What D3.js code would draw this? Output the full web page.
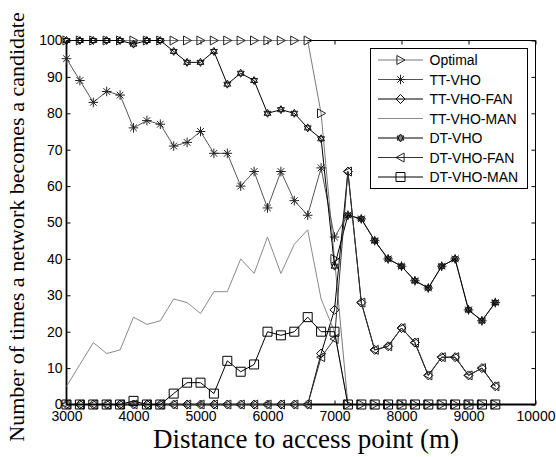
<!DOCTYPE html>
<html>
<head>
<meta charset="utf-8">
<script src="https://cdn.jsdelivr.net/npm/d3@7"></script>
<style>
  body { margin: 0; background: #fff; }
  svg { display: block; }
</style>
</head>
<body>
<svg id="chart" width="556" height="457"></svg>
<script>
// distances (m), one point every 200 m
const distance = [3000, 3200, 3400, 3600, 3800, 4000, 4200, 4400, 4600, 4800, 5000,
  5200, 5400, 5600, 5800, 6000, 6200, 6400, 6600, 6800, 7000, 7200, 7400, 7600,
  7800, 8000, 8200, 8400, 8600, 8800, 9000, 9200, 9400];

const optimal = [100, 100, 100, 100, 100, 100, 100, 100, 100, 100, 100, 100, 100, 100,
  100, 100, 100, 100, 100, 80, 40, 0, 0, 0, 0, 0, 0, 0, 0, 0, 0, 0, 0];
const ttVho = [95, 89, 83, 86, 85, 76, 78, 77, 71, 72, 75, 69, 69, 60, 64, 54, 64, 56,
  52, 65, 46, 52, 51, 45, 40, 38, 34, 32, 38, 40, 26, 23, 28];
const ttVhoFan = [0, 0, 0, 0, 0, 0, 0, 0, 0, 0, 0, 0, 0, 0, 0, 0, 0, 0, 0, 14, 26, 64,
  28, 15, 16, 21, 17, 8, 13, 13, 8, 10, 5];
const ttVhoMan = [5, 11, 17, 14, 15, 24, 22, 23, 29, 28, 25, 31, 31, 40, 36, 46, 36, 44,
  48, 29, 20, 0, 0, 0, 0, 0, 0, 0, 0, 0, 0, 0, 0];
const dtVho = [100, 100, 100, 100, 100, 99, 100, 100, 97, 94, 94, 97, 88, 91, 89, 80, 81,
  80, 76, 73, 38, 52, 51, 45, 40, 38, 34, 32, 38, 40, 26, 23, 28];
const dtVhoFan = [0, 0, 0, 0, 0, 0, 0, 0, 0, 0, 0, 0, 0, 0, 0, 0, 0, 0, 0, 13, 18, 64,
  28, 15, 16, 21, 17, 8, 13, 13, 8, 10, 5];
const dtVhoMan = [0, 0, 0, 0, 0, 1, 0, 0, 3, 6, 6, 3, 12, 9, 11, 20, 19, 20, 24, 20, 20,
  0, 0, 0, 0, 0, 0, 0, 0, 0, 0, 0, 0];

const seriesNames = ['Optimal', 'TT-VHO', 'TT-VHO-FAN', 'TT-VHO-MAN', 'DT-VHO', 'DT-VHO-FAN', 'DT-VHO-MAN'];
const seriesValues = [optimal, ttVho, ttVhoFan, ttVhoMan, dtVho, dtVhoFan, dtVhoMan];

const xTicks = [3000, 4000, 5000, 6000, 7000, 8000, 9000, 10000];
const yTicks = [0, 10, 20, 30, 40, 50, 60, 70, 80, 90, 100];

// marker shapes (drawn around 0,0)
function triRight(r) { return `M${-r * 0.8},${-r}L${r},0L${-r * 0.8},${r}Z`; }
function triLeft(r) { return `M${r * 0.8},${-r}L${-r},0L${r * 0.8},${r}Z`; }
function diamond(r) { return `M0,${-r}L${r},0L0,${r}L${-r},0Z`; }
function square(r) { return `M${-r},${-r}H${r}V${r}H${-r}Z`; }
function asterisk(r) {
  let a = r * 0.7;
  return `M${-r},0H${r}M0,${-r}V${r}M${-a},${-a}L${a},${a}M${-a},${a}L${a},${-a}`;
}
function hexagram(r) {
  let p = '';
  [-90, 90].forEach(function(start) {
    let pts = [0, 120, 240].map(function(k) {
      let t = (start + k) * Math.PI / 180;
      return [r * Math.cos(t), r * Math.sin(t)];
    });
    p += 'M' + pts.map(d => d.join(',')).join('L') + 'Z';
  });
  return p;
}

const styles = [
  { line: '#7a7a7a', width: 1, marker: triRight(4.5), mstroke: '#222' },
  { line: '#555', width: 1, marker: asterisk(4.8), mstroke: '#222' },
  { line: '#000', width: 1, marker: diamond(4.5), mstroke: '#000' },
  { line: '#8a8a8a', width: 1, marker: null, mstroke: null },
  { line: '#000', width: 1, marker: hexagram(4), mstroke: '#111' },
  { line: '#333', width: 1, marker: triLeft(4.5), mstroke: '#222' },
  { line: '#000', width: 1, marker: square(4.5), mstroke: '#000' }
];

const svg = d3.select('#chart');
const mLeft = 66.5, mRight = 535.5, mTop = 40.5, mBottom = 404.5;

const x = d3.scaleLinear().domain([3000, 10000]).range([mLeft, mRight]);
const y = d3.scaleLinear().domain([0, 100]).range([mBottom, mTop]);

// axes with inward ticks
svg.append('g')
  .attr('transform', `translate(0,${mBottom})`)
  .call(d3.axisBottom(x).tickValues(xTicks).tickFormat(d3.format('d'))
    .tickSizeInner(-4).tickSizeOuter(0).tickPadding(6.5))
  .call(g => g.select('.domain').remove())
  .call(g => g.selectAll('text').attr('font-family', 'Liberation Sans, Arial, sans-serif')
    .attr('font-size', 14).attr('fill', '#000'));

svg.append('g')
  .attr('transform', `translate(${mLeft},0)`)
  .call(d3.axisLeft(y).tickValues(yTicks).tickSizeInner(-4).tickSizeOuter(0).tickPadding(4))
  .call(g => g.select('.domain').remove())
  .call(g => g.selectAll('text').attr('font-family', 'Liberation Sans, Arial, sans-serif')
    .attr('font-size', 14).attr('fill', '#000'));

svg.append('g')
  .attr('transform', `translate(0,${mTop})`)
  .call(d3.axisTop(x).tickValues(xTicks).tickFormat('').tickSizeInner(-4).tickSizeOuter(0))
  .call(g => g.select('.domain').remove());

svg.append('g')
  .attr('transform', `translate(${mRight},0)`)
  .call(d3.axisRight(y).tickValues(yTicks).tickFormat('').tickSizeInner(-4).tickSizeOuter(0))
  .call(g => g.select('.domain').remove());

// box
svg.append('path')
  .attr('d', `M${mLeft},${mTop}H${mRight}V${mBottom}`)
  .attr('fill', 'none').attr('stroke', '#000').attr('stroke-width', 1);
svg.append('path')
  .attr('d', `M${mLeft},${mTop}V${mBottom}H${mRight}`)
  .attr('fill', 'none').attr('stroke', '#000').attr('stroke-width', 1.8);

// series
const line = d3.line().x((d, i) => x(distance[i])).y(d => y(d));

seriesValues.forEach(function(vals, k) {
  let st = styles[k];
  svg.append('path')
    .datum(vals)
    .attr('d', line)
    .attr('fill', 'none')
    .attr('stroke', st.line)
    .attr('stroke-width', st.width);
  if (st.marker) {
    svg.append('g').selectAll('path')
      .data(vals)
      .join('path')
      .attr('transform', (d, i) => `translate(${x(distance[i])},${y(d)})`)
      .attr('d', st.marker)
      .attr('fill', 'none')
      .attr('stroke', st.mstroke)
      .attr('stroke-width', 1);
  }
});

// legend
const lg = svg.append('g');
lg.append('rect')
  .attr('x', 370.5).attr('y', 48.5).attr('width', 157).attr('height', 140)
  .attr('fill', '#fff').attr('stroke', '#000').attr('stroke-width', 1);

seriesNames.forEach(function(name, k) {
  let st = styles[k];
  let ly = 60 + k * 19.5;
  lg.append('line')
    .attr('x1', 378).attr('x2', 423).attr('y1', ly).attr('y2', ly)
    .attr('stroke', st.line).attr('stroke-width', st.width);
  if (st.marker) {
    lg.append('path')
      .attr('transform', `translate(400.5,${ly})`)
      .attr('d', st.marker)
      .attr('fill', 'none')
      .attr('stroke', st.mstroke);
  }
  lg.append('text')
    .attr('x', 429.5).attr('y', ly)
    .attr('dy', '0.36em')
    .attr('font-family', 'Liberation Sans, Arial, sans-serif')
    .attr('font-size', 14)
    .text(name);
});

// axis titles
svg.append('text')
  .attr('x', 306).attr('y', 448)
  .attr('text-anchor', 'middle')
  .attr('font-family', 'Liberation Serif, Times New Roman, serif')
  .attr('font-size', 27)
  .text('Distance to access point (m)');

svg.append('text')
  .attr('transform', 'translate(24,227) rotate(-90)')
  .attr('text-anchor', 'middle')
  .attr('font-family', 'Liberation Serif, Times New Roman, serif')
  .attr('font-size', 22)
  .text('Number of times a network becomes a candidate');
</script>
</body>
</html>
